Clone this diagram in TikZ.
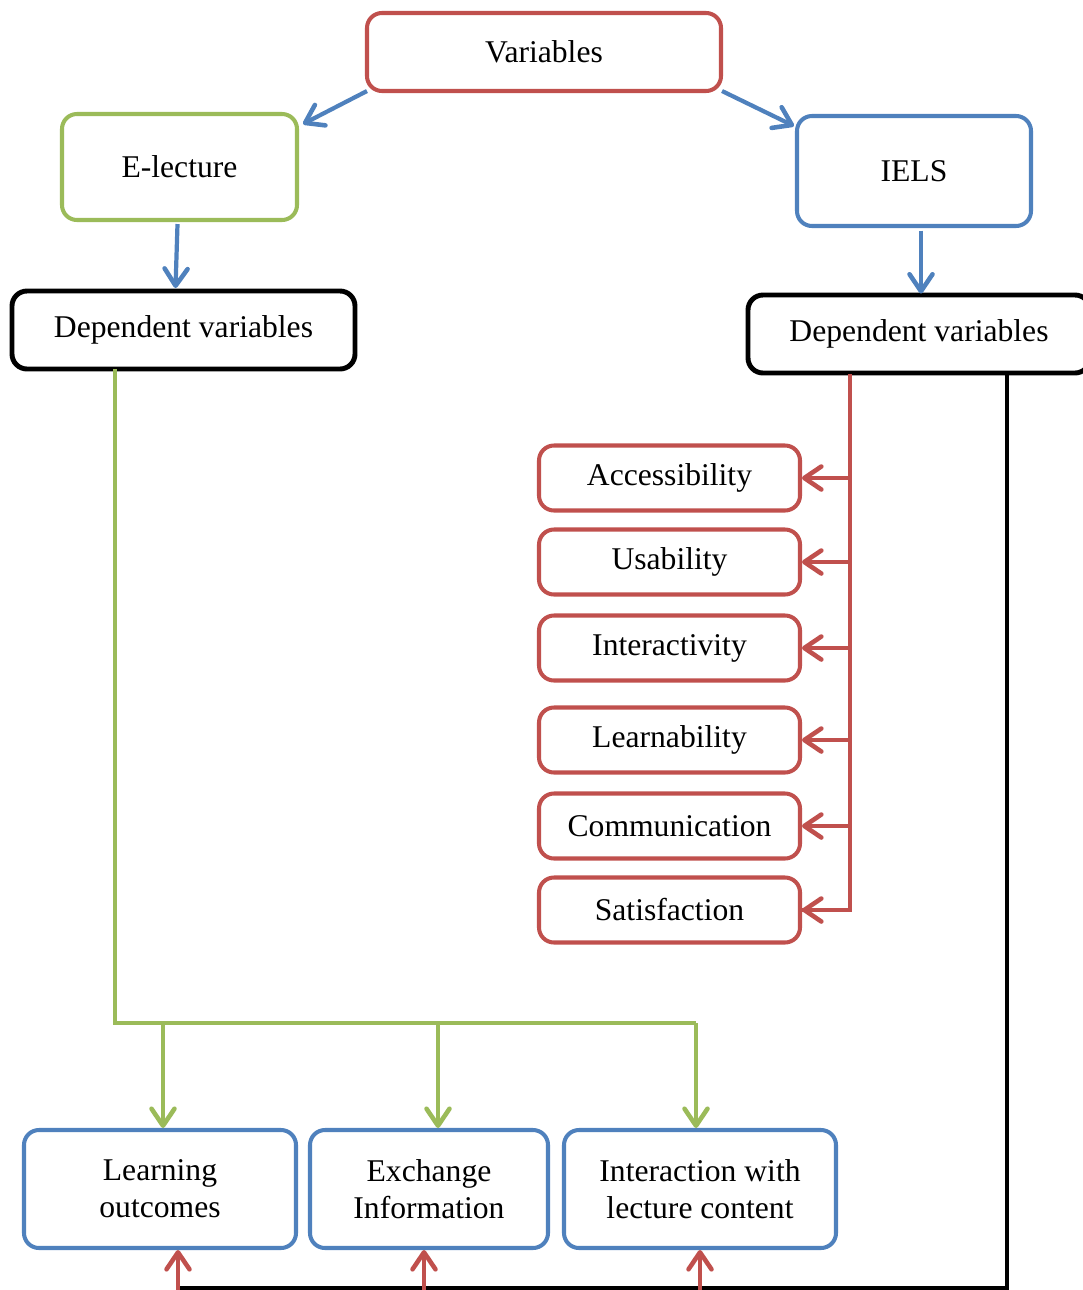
\documentclass[tikz,border=0pt]{standalone}
\usepackage{fontspec}
\setmainfont{Liberation Serif}
\usepackage{tikz}
\usetikzlibrary{arrows.meta, positioning, calc}
\definecolor{varred}{RGB}{192, 80, 77}
\definecolor{varblue}{RGB}{79, 129, 189}
\definecolor{vargreen}{RGB}{155, 187, 89}

\begin{document}
\begin{tikzpicture}[
    box/.style={rectangle, rounded corners=0.3cm, draw, line width=2.3pt, fill=white, align=center, font=\fontsize{18}{21}\selectfont},
    redbox/.style={box, draw=varred, minimum width=5.22cm, minimum height=1.3cm},
    bluebox/.style={box, draw=varblue},
    depbox/.style={box, draw=black, line width=2.8pt, minimum height=1.56cm},
    tip/.style={-{Straight Barb[length=3.4mm, width=4.6mm, line width=2.6pt, round]}},
    blueedge/.style={tip, line width=2.4pt, varblue},
    rededge/.style={line width=2.4pt, varred},
    greenedge/.style={line width=2.4pt, vargreen}
]
\useasboundingbox (0,0) rectangle (21.66,-25.8);

\node[box, draw=varred, minimum width=7.08cm, minimum height=1.56cm] (var) at (10.88,-1.04) {Variables};
\node[box, draw=vargreen, minimum width=4.7cm, minimum height=2.12cm] (elec) at (3.59,-3.34) {E-lecture};
\node[bluebox, minimum width=4.68cm, minimum height=2.2cm] (iels) at (18.28,-3.42) {IELS};
\node[depbox, minimum width=6.86cm] (depl) at (3.67,-6.6) {Dependent variables};
\node[depbox, minimum width=6.84cm] (depr) at (18.38,-6.68) {Dependent variables};

\node[redbox] (acc) at (13.39,-9.56) {Accessibility};
\node[redbox] (usa) at (13.39,-11.24) {Usability};
\node[redbox] (inter) at (13.39,-12.96) {Interactivity};
\node[redbox] (lea) at (13.39,-14.8) {Learnability};
\node[redbox] (com) at (13.39,-16.52) {Communication};
\node[redbox] (sat) at (13.39,-18.2) {Satisfaction};

\node[bluebox, minimum width=5.44cm, minimum height=2.36cm] (lout) at (3.2,-23.78) {Learning\\outcomes};
\node[bluebox, minimum width=4.76cm, minimum height=2.36cm] (exch) at (8.58,-23.78) {Exchange\\Information};
\node[bluebox, minimum width=5.44cm, minimum height=2.36cm] (ilc) at (14.0,-23.78) {Interaction with\\lecture content};

% blue arrows
\draw[blueedge] ($(var.south west)+(0.04,0.04)$) -- ($(elec.north east)+(0.08,-0.24)$);
\draw[blueedge] ($(var.south east)+(-0.02,0.04)$) -- ($(iels.north west)+(-0.02,-0.24)$);
\draw[blueedge] ($(elec.south)+(-0.04,-0.04)$) -- ($(elec.south)+(-0.08,-1.32)$);
\draw[blueedge] ($(depr.north)+(0.04,1.24)$) -- ($(depr.north)+(0.04,-0.02)$);

% red branch
\coordinate (rtop) at (17,-7.48);
\draw[rededge] (rtop) -- (17,-18.2) -- (sat.east);
\foreach \n in {acc, usa, inter, lea, com, sat}
    \draw[rededge, tip] (17,0 |- \n.east) -- (\n.east);

% black line to bottom
\coordinate (btop) at (20.14,-7.48);
\coordinate (bend) at (3.56,-25.76);
\draw[line width=2.4pt, line join=miter] (btop) |- (bend);
\draw[rededge, tip] (3.56,-25.8) -- (lout.south -| 3.56,0);
\draw[rededge, tip] (8.48,-25.8) -- (exch.south -| 8.48,0);
\draw[rededge, tip] (14.0,-25.8) -- (ilc.south -| 14.0,0);

% green branch
\coordinate (gtop) at (2.3,-7.38);
\coordinate (gmid) at (2.3,-20.46);
\draw[greenedge] (gtop) -- (gmid) -- (13.92,-20.46);
\draw[greenedge, tip] (3.26,-20.46) -- (3.26,-22.56);
\draw[greenedge, tip] (8.76,-20.46) -- (8.76,-22.56);
\draw[greenedge, tip] (13.92,-20.46) -- (13.92,-22.56);
\end{tikzpicture}
\end{document}
